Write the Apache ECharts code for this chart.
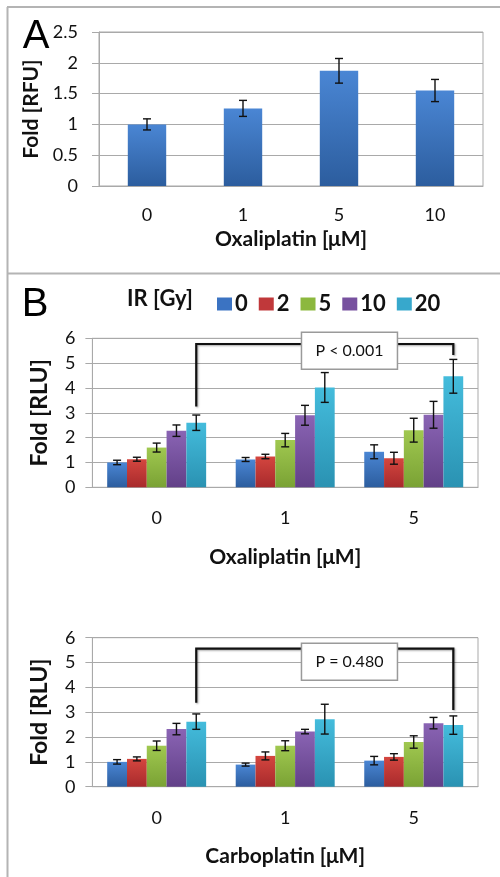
<!DOCTYPE html>
<html>
<head>
<meta charset="utf-8">
<script src="https://cdn.jsdelivr.net/npm/echarts@6/dist/echarts.min.js"></script>
<style>html,body{margin:0;padding:0;background:#fff}#c{width:500px;height:877px}</style>
</head>
<body>
<div id="c"></div>
<script>
// ---------- DATA ----------
const catsA = ['0', '1', '5', '10'];
const valsA = [1.0, 1.26, 1.87, 1.55];
const errA = [0.09, 0.13, 0.20, 0.18];

const catsB = ['0', '1', '5'];
const irLabels = ['0', '2', '5', '10', '20'];
// rows = IR dose, columns = drug concentration
const oxaliVals = [
  [1.00, 1.12, 1.43],
  [1.13, 1.24, 1.17],
  [1.60, 1.90, 2.30],
  [2.28, 2.90, 2.92],
  [2.60, 4.02, 4.47]
];
const oxaliErr = [
  [0.09, 0.08, 0.28],
  [0.08, 0.09, 0.24],
  [0.18, 0.27, 0.48],
  [0.23, 0.40, 0.54],
  [0.31, 0.60, 0.68]
];
const carboVals = [
  [1.00, 0.89, 1.05],
  [1.12, 1.24, 1.20],
  [1.65, 1.65, 1.80],
  [2.32, 2.22, 2.56],
  [2.62, 2.72, 2.48]
];
const carboErr = [
  [0.09, 0.06, 0.17],
  [0.08, 0.16, 0.13],
  [0.19, 0.20, 0.25],
  [0.23, 0.09, 0.23],
  [0.31, 0.60, 0.37]
];
const pLabels = ['P < 0.001', 'P = 0.480'];
// bracket: [leftCat, rightCat, leftBottom, rightBottom, top]
const oxaliBracket = [0, 2, 3.25, 5.33, 5.77];
const carboBracket = [0, 2, 3.38, 3.09, 5.56];
// p box centre value
const oxaliBoxY = 5.5;
const carboBoxY = 5.03;

// ---------- STYLE ----------
const FONT = 'Lato, "Open Sans", sans-serif';
const grad = (a, b) => new echarts.graphic.LinearGradient(0, 0, 0, 1, [{offset: 0, color: a}, {offset: 1, color: b}]);
const irColors = [
  grad('#4a86d4', '#2c5d9e'),
  grad('#d4463f', '#a82a2c'),
  grad('#a0c850', '#7aa234'),
  grad('#8a64b4', '#624088'),
  grad('#44bcdc', '#2a92b2')
];
const legendColors = ['#3b73c2', '#c0383a', '#8cb83e', '#77519f', '#37a8cc'];
const GAP_B = 0.23;
const GAP_A = 0.60;
const GRID_COL = '#a9a9a9';

function errRender(idx, n, gap) {
  return function (params, api) {
    const x = api.value(0), v = api.value(1), e = api.value(2);
    const bw = api.size([1, 0])[0];
    const barW = bw * (1 - gap) / n;
    const off = (idx - (n - 1) / 2) * barW;
    const t = api.coord([x, v + e]);
    const b = api.coord([x, v - e]);
    const cx = t[0] + off, cap = 4;
    const st = {stroke: '#111', lineWidth: 1.4};
    return {type: 'group', children: [
      {type: 'line', shape: {x1: cx, y1: t[1], x2: cx, y2: b[1]}, style: st},
      {type: 'line', shape: {x1: cx - cap, y1: t[1], x2: cx + cap, y2: t[1]}, style: st},
      {type: 'line', shape: {x1: cx - cap, y1: b[1], x2: cx + cap, y2: b[1]}, style: st}
    ]};
  };
}

function bracketRender(params, api) {
  const bw = api.size([1, 0])[0];
  const barW = bw * (1 - GAP_B) / 5;
  const off = 2 * barW;
  const l = api.value(0), r = api.value(1);
  const lb = api.coord([l, api.value(2)]);
  const rb = api.coord([r, api.value(3)]);
  const lt = api.coord([l, api.value(4)]);
  const x1 = lb[0] + off, x2 = rb[0] + off, yt = lt[1];
  return {type: 'polyline', shape: {points: [[x1, lb[1]], [x1, yt], [x2, yt], [x2, rb[1]]]},
    style: {stroke: '#111', lineWidth: 2.2, fill: null, shadowBlur: 2, shadowColor: 'rgba(0,0,0,0.35)', shadowOffsetX: 1, shadowOffsetY: 1}};
}

function boxRender(text) {
  return function (params, api) {
    const bw = api.size([1, 0])[0];
    const p = api.coord([api.value(0), api.value(1)]);
    const cx = p[0] + bw / 2, cy = p[1];
    const w = 96, h = 37;
    return {type: 'group', children: [
      {type: 'rect', shape: {x: cx - w / 2, y: cy - h / 2, width: w, height: h},
        style: {fill: '#fff', stroke: '#9a9a9a', lineWidth: 1.5}},
      {type: 'text', style: {text: text, x: cx, y: cy, align: 'center', verticalAlign: 'middle',
        font: '16px ' + FONT, fill: '#111'}}
    ]};
  };
}

const yAxisBase = (gi, max, interval, name, nameSize, nameGap, labelSize, margin) => ({
  type: 'value', gridIndex: gi, min: 0, max: max, interval: interval,
  name: name, nameLocation: 'middle', nameGap: nameGap,
  nameTextStyle: {fontFamily: FONT, fontWeight: 'bold', fontSize: nameSize, color: '#111'},
  axisLine: {show: true, lineStyle: {color: GRID_COL}},
  axisTick: {show: true, length: 7, lineStyle: {color: GRID_COL}},
  axisLabel: {fontFamily: FONT, fontSize: labelSize, color: '#111', margin: margin},
  splitLine: {show: true, lineStyle: {color: GRID_COL, width: 1}}
});
const xAxisBase = (gi, cats, name, nameSize, nameGap, labelSize, margin) => ({
  type: 'category', gridIndex: gi, data: cats,
  name: name, nameLocation: 'middle', nameGap: nameGap,
  nameTextStyle: {fontFamily: FONT, fontWeight: 'bold', fontSize: nameSize, color: '#111'},
  axisLine: {show: true, lineStyle: {color: GRID_COL}},
  axisTick: {show: false},
  axisLabel: {fontFamily: FONT, fontSize: labelSize, color: '#111', margin: margin}
});

const series = [];
// Panel A
series.push({type: 'bar', name: 'A', xAxisIndex: 0, yAxisIndex: 0, data: valsA,
  barCategoryGap: (GAP_A * 100) + '%', itemStyle: {color: irColors[0]}, silent: true});
series.push({type: 'custom', xAxisIndex: 0, yAxisIndex: 0, silent: true, z: 5,
  data: valsA.map((v, i) => [i, v, errA[i]]), encode: {x: 0, y: 1}, renderItem: errRender(0, 1, GAP_A)});

function addPanelB(gi, vals, errs, bracket, boxY, label) {
  vals.forEach((row, s) => {
    series.push({type: 'bar', name: irLabels[s], xAxisIndex: gi, yAxisIndex: gi, data: row,
      barGap: '0%', barCategoryGap: (GAP_B * 100) + '%', itemStyle: {color: irColors[s]}, silent: true});
  });
  vals.forEach((row, s) => {
    series.push({type: 'custom', xAxisIndex: gi, yAxisIndex: gi, silent: true, z: 5,
      data: row.map((v, i) => [i, v, errs[s][i]]), encode: {x: 0, y: 1}, renderItem: errRender(s, 5, GAP_B)});
  });
  series.push({type: 'custom', xAxisIndex: gi, yAxisIndex: gi, silent: true, z: 6,
    data: [bracket], encode: {x: [0, 1], y: [2, 3, 4]}, renderItem: bracketRender});
  series.push({type: 'custom', xAxisIndex: gi, yAxisIndex: gi, silent: true, z: 7,
    data: [[1, boxY]], encode: {x: 0, y: 1}, renderItem: boxRender(label)});
}
addPanelB(1, oxaliVals, oxaliErr, oxaliBracket, oxaliBoxY, pLabels[0]);
addPanelB(2, carboVals, carboErr, carboBracket, carboBoxY, pLabels[1]);

const option = {
  animation: false,
  backgroundColor: '#fff',
  grid: [
    {left: 99, right: 17, top: 32, height: 154, show: true, borderColor: GRID_COL, borderWidth: 1},
    {left: 92.4, right: 22, top: 338.3, height: 149, show: true, borderColor: GRID_COL, borderWidth: 1},
    {left: 92.4, right: 22, top: 637.7, height: 149, show: true, borderColor: GRID_COL, borderWidth: 1}
  ],
  xAxis: [
    xAxisBase(0, catsA, 'Oxaliplatin [μM]', 21, 43, 18, 20),
    xAxisBase(1, catsB, 'Oxaliplatin [μM]', 21, 59, 18, 22),
    xAxisBase(2, catsB, 'Carboplatin [μM]', 21, 59, 18, 22)
  ],
  yAxis: [
    yAxisBase(0, 2.5, 0.5, 'Fold [RFU]', 21, 49, 18, 21),
    yAxisBase(1, 6, 1, 'Fold [RLU]', 23, 41, 18, 17),
    yAxisBase(2, 6, 1, 'Fold [RLU]', 23, 41, 18, 17)
  ],
  legend: {
    data: irLabels.map((n, i) => ({name: n, itemStyle: {color: legendColors[i]}})),
    left: 212, top: 288, itemWidth: 15, itemHeight: 13, itemGap: 11, icon: 'rect',
    selectedMode: false,
    textStyle: {fontFamily: FONT, fontWeight: 'bold', fontSize: 22, color: '#111', padding: [0, 0, 0, -2]}
  },
  graphic: [
    {type: 'line', shape: {x1: 7, y1: 7, x2: 500, y2: 7}, style: {stroke: '#b4b4b4', lineWidth: 2}},
    {type: 'line', shape: {x1: 7.5, y1: 7, x2: 7.5, y2: 877}, style: {stroke: '#b4b4b4', lineWidth: 2}},
    {type: 'line', shape: {x1: 7, y1: 273.5, x2: 500, y2: 273.5}, style: {stroke: '#b4b4b4', lineWidth: 2}},
    {type: 'text', style: {text: 'A', x: 36, y: 37, align: 'center', verticalAlign: 'middle',
      font: '40px "Liberation Sans", Arial, sans-serif', fill: '#000'}},
    {type: 'text', style: {text: 'B', x: 35, y: 305, align: 'center', verticalAlign: 'middle',
      font: '40px "Liberation Sans", Arial, sans-serif', fill: '#000'}},
    {type: 'text', style: {text: 'IR [Gy]', x: 160, y: 299, align: 'center', verticalAlign: 'middle',
      font: 'bold 22px ' + FONT, fill: '#111'}}
  ],
  series: series
};

const chart = echarts.init(document.getElementById('c'), null, {renderer: 'canvas'});
chart.setOption(option);
</script>
</body>
</html>
